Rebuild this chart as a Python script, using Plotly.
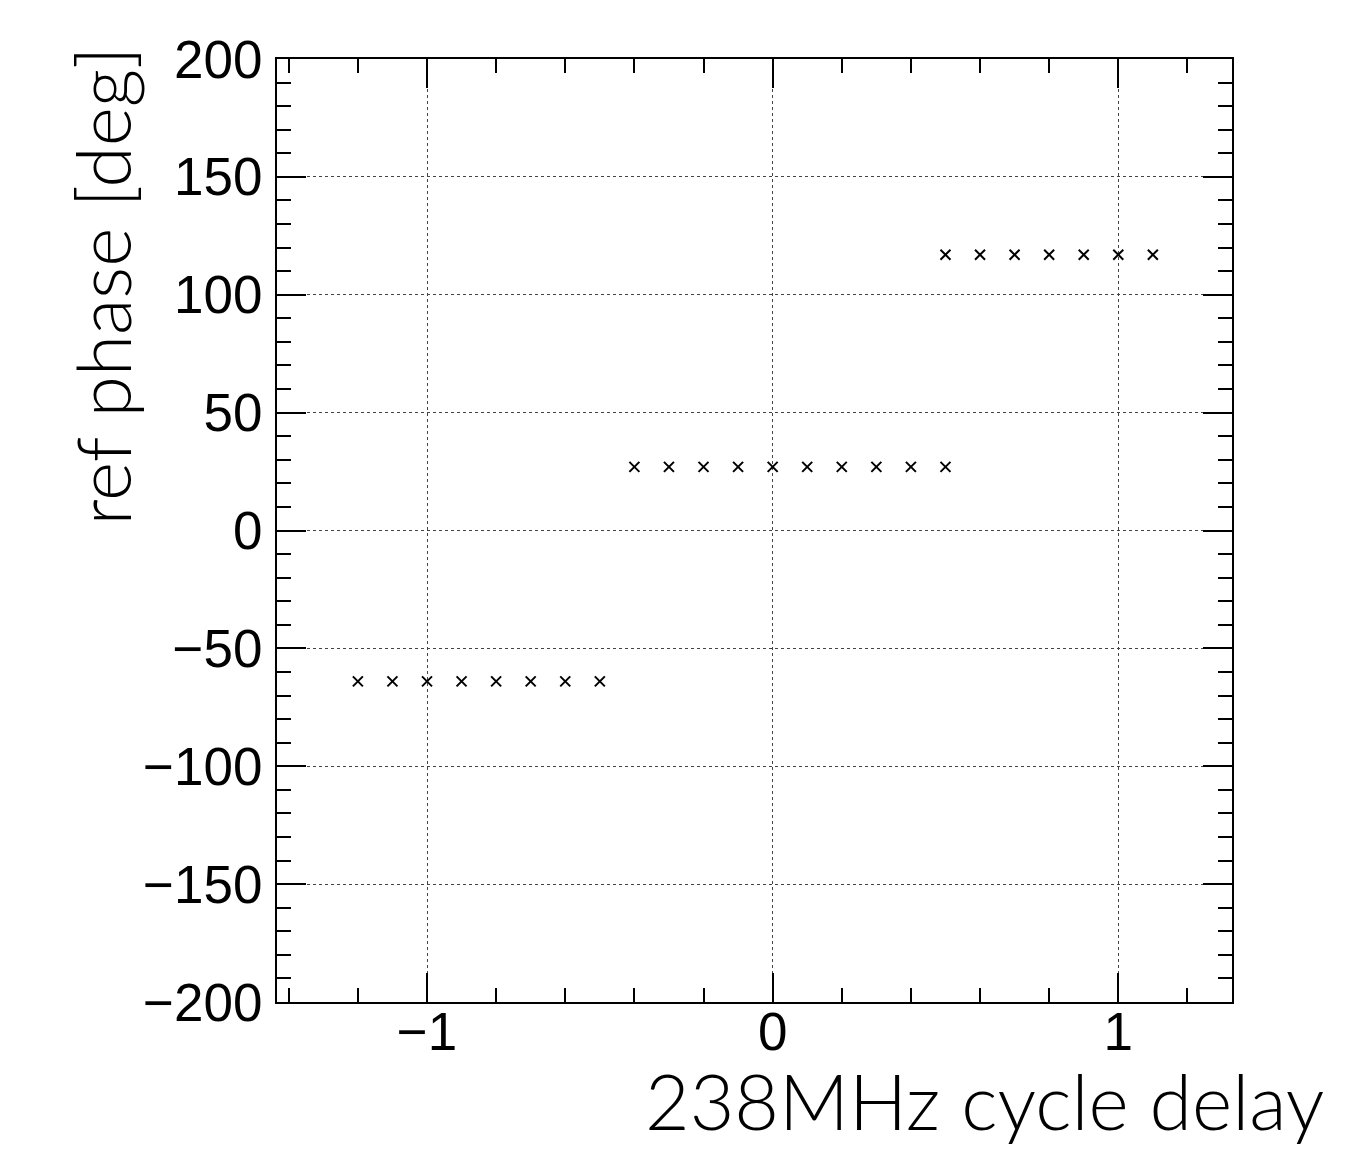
import plotly.graph_objects as go

# Data
x_low = [-1.2, -1.1, -1.0, -0.9, -0.8, -0.7, -0.6, -0.5]
y_low = [-64, -64, -64, -64, -64, -64, -64, -64]
x_mid = [-0.4, -0.3, -0.2, -0.1, 0.0, 0.1, 0.2, 0.3, 0.4, 0.5]
y_mid = [27, 27, 27, 27, 27, 27, 27, 27, 27, 27]
x_high = [0.5, 0.6, 0.7, 0.8, 0.9, 1.0, 1.1]
y_high = [117, 117, 117, 117, 117, 117, 117]

x_ticks = [-1, 0, 1]
y_ticks = [-200, -150, -100, -50, 0, 50, 100, 150, 200]

xs = x_low + x_mid + x_high
ys = y_low + y_mid + y_high

fig = go.Figure()
fig.add_trace(go.Scatter(
    x=xs, y=ys, mode="markers",
    marker=dict(symbol="x-thin", size=10, line=dict(width=2, color="black"), color="black"),
    showlegend=False,
))

tickfont = dict(family="Liberation Sans, Arial, sans-serif", size=53, color="black")

W, H = 1358, 1152
L, R, T, B = 277, 126, 59, 150
pw = W - L - R
ph = H - T - B

fig.update_layout(
    width=W, height=H,
    margin=dict(l=L, r=R, t=T, b=B),
    plot_bgcolor="white", paper_bgcolor="white",
    xaxis=dict(
        range=[-1.434, 1.329], tickvals=x_ticks, ticks="inside", ticklen=29, tickwidth=2,
        tickcolor="black", showline=True, linecolor="black", linewidth=2, mirror="ticks",
        showgrid=True, gridcolor="#444444", griddash="dot", gridwidth=1,
        zeroline=False, tickfont=tickfont, ticklabelstandoff=-18,
        minor=dict(dtick=0.2, tick0=0, ticks="inside", ticklen=14, tickwidth=2, tickcolor="black", showgrid=False),
    ),
    yaxis=dict(
        range=[-200, 200], tickvals=y_ticks, ticks="inside", ticklen=29, tickwidth=2,
        tickcolor="black", showline=True, linecolor="black", linewidth=2, mirror="ticks",
        showgrid=True, gridcolor="#444444", griddash="dot", gridwidth=1,
        zeroline=False, tickfont=tickfont, ticklabelstandoff=2,
        minor=dict(dtick=10, tick0=0, ticks="inside", ticklen=14, tickwidth=2, tickcolor="black", showgrid=False),
    ),
    annotations=[
        dict(text="238MHz cycle delay",
             x=(1326 - L) / pw, y=(H - B - 1148) / ph, xref="paper", yref="paper",
             showarrow=False, font=dict(family="Lato", size=77, color="black", weight=300),
             xanchor="right", yanchor="bottom"),
        dict(text="ref phase [deg]",
             x=(148 - L) / pw, y=(H - B - 45) / ph, xref="paper", yref="paper",
             showarrow=False, font=dict(family="Lato", size=75, color="black", weight=300),
             textangle=-90, xanchor="right", yanchor="top"),
    ],
)

fig.write_html("out.html")
